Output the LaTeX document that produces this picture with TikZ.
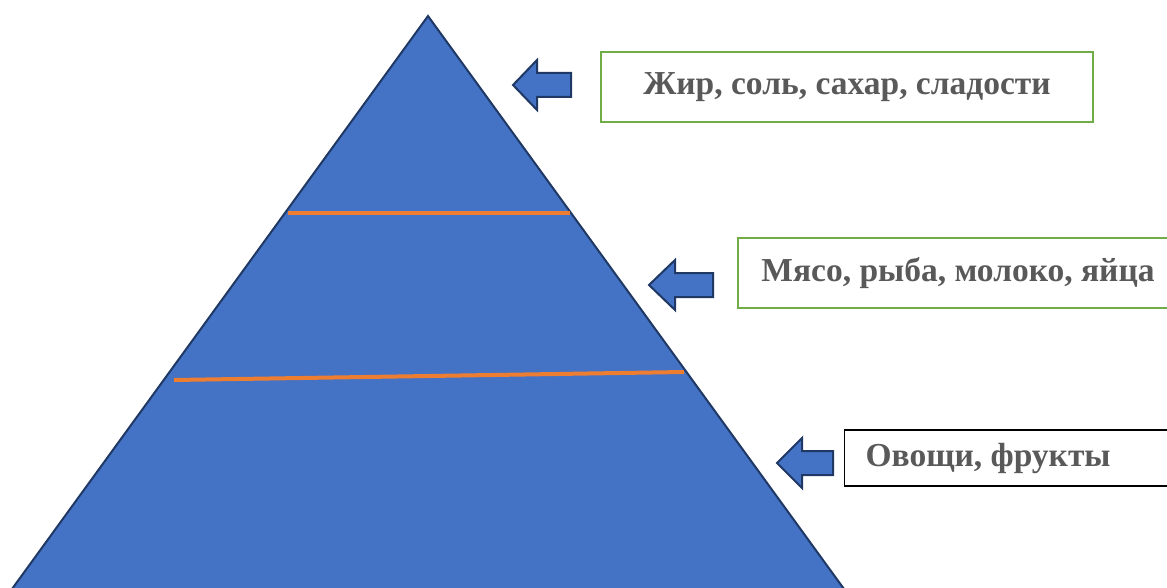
\documentclass[tikz,border=0pt]{standalone}
\usepackage{fontspec}
\setmainfont{Liberation Serif}
\usepackage{tikz}

\definecolor{pyrblue}{HTML}{4472C4}
\definecolor{pyredge}{HTML}{1F3864}
\definecolor{pyrorange}{HTML}{ED7D31}
\definecolor{boxgreen}{HTML}{70AD47}
\definecolor{labelgray}{HTML}{595959}
\tikzset{
  labelbox/.style={draw=boxgreen, line width=2pt, minimum height=70pt, text=labelgray,
    font=\bfseries\fontsize{33.5}{38}\selectfont\frenchspacing},
  pyrpart/.style={fill=pyrblue, draw=pyredge},
}

\begin{document}
\begin{tikzpicture}[x=1pt,y=-1pt]
\useasboundingbox (0,0) rectangle (1167,588);
\clip (0,0) rectangle (1167,588);

% pyramid
\draw[pyrpart, line width=2pt] (428,16)--(4,600)--(852,600)--cycle;
\draw[pyrorange, line width=4pt] (288,213) -- (570,213);
\draw[pyrorange, line width=4pt] (174,380) -- (684,372);

% arrows
\foreach \tipx/\tipy/\head/\tail in {513/85/24/58, 649/285/26/64, 777/463/25/56}
   \draw[pyrpart, line width=2pt] (\tipx,\tipy) -- ++(\head,-25) -- ++(0,13)
       -- (\tipx+\tail,\tipy-12) -- ++(0,24) -- (\tipx+\head,\tipy+12) -- ++(0,13) -- cycle;

% labels
\node[labelbox, minimum width=492pt] (fats) at (847,87.5) {Жир, соль, сахар, сладости};
\node[labelbox, minimum width=440pt] (protein) at (958,273) {Мясо, рыба, молоко, яйца};
\node[labelbox, draw=black, line width=1.2pt, minimum height=56pt, anchor=west,
      inner xsep=21pt] (plants) at (844,458)
      {\makebox[300pt][l]{\raisebox{-4pt}{Овощи, фрукты}}};
\end{tikzpicture}
\end{document}
